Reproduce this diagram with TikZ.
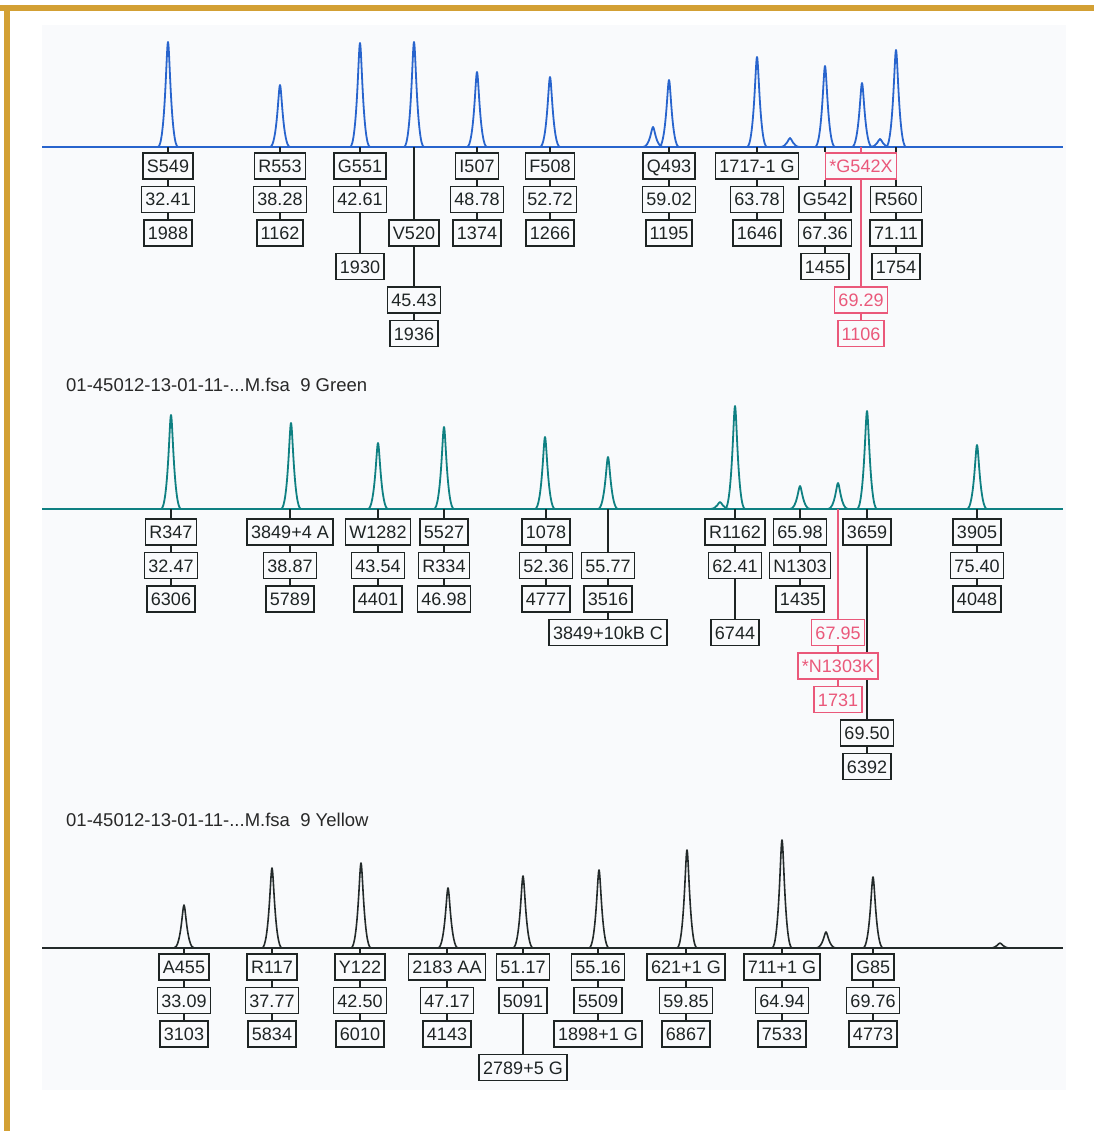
\documentclass[tikz,border=0pt]{standalone}
\usepackage{fontspec}
\setmainfont{Liberation Sans}
\definecolor{gold}{RGB}{211,160,52}
\definecolor{panel}{RGB}{249,250,252}
\definecolor{tblue}{RGB}{40,100,205}
\definecolor{tteal}{RGB}{15,128,130}
\definecolor{tblack}{RGB}{35,42,42}
\definecolor{boxc}{RGB}{30,36,36}
\definecolor{redc}{RGB}{234,88,122}
\definecolor{headc}{RGB}{40,40,40}

\begin{document}
\begin{tikzpicture}[x=1pt,y=-1pt,node distance=33.5pt,every node/.style={inner sep=0pt}]
\tikzstyle{lab}=[draw=boxc,line width=1.8pt,fill=panel,text=boxc,font=\fontsize{18}{20}\selectfont,inner xsep=4pt,text height=13pt,text depth=0pt,minimum height=26pt]
\tikzstyle{redlab}=[lab,draw=redc,text=redc]
\tikzstyle{link}=[draw=boxc,line width=1.4pt]
\tikzstyle{redlink}=[draw=redc,line width=1.4pt]
\tikzstyle{head}=[anchor=west,text=headc,font=\fontsize{18.5}{20}\selectfont]
\tikzstyle{blueline}=[draw=tblue,line width=1.8pt,line join=round]
\tikzstyle{tealline}=[draw=tteal,line width=1.8pt,line join=round]
\tikzstyle{blackline}=[draw=tblack,line width=1.6pt,line join=round]

\useasboundingbox (0,0) rectangle (1094,1131);
\fill[white] (0,0) rectangle (1094,1131);
\fill[panel] (42,25) rectangle (1066,1090);
\fill[gold] (0,5) rectangle (1094,11);
\fill[gold] (4,5) rectangle (10,1131);

% traces
\draw[blueline] (42,147) -- (1063,147);
\foreach \x/\t in {168/42,280/85,360/43,414/42,477/72,550/77,653/127,669/80,757/57,790/138,825/66,862/83,880/139,896/50}
  \draw[blueline] ({\x-10},147) .. controls ({\x-3},147) and ({\x-1.5},\t) .. (\x,\t) .. controls ({\x+1.5},\t) and ({\x+3},147) .. ({\x+10},147);
\draw[tealline] (42,509) -- (1063,509);
\foreach \x/\t in {171/415,291/423,378/443,444/427,545/437,608/457,720/502,735/406,800/486,838/483,867/411,977/445}
  \draw[tealline] ({\x-10},509) .. controls ({\x-3},509) and ({\x-1.5},\t) .. (\x,\t) .. controls ({\x+1.5},\t) and ({\x+3},509) .. ({\x+10},509);
\draw[blackline] (42,948) -- (1063,948);
\foreach \x/\t in {184/905,272/868,361/863,448/888,523/876,599/870,687/850,782/840,826/932,873/877,1000/943}
  \draw[blackline] ({\x-10},948) .. controls ({\x-3},948) and ({\x-1.5},\t) .. (\x,\t) .. controls ({\x+1.5},\t) and ({\x+3},948) .. ({\x+10},948);

% top panel
\coordinate (tap) at (168,147);
\node[lab] (ta0) at (168,166) {S549};
\node[lab,below of=ta0] (ta1) {32.41};
\node[lab,below of=ta1] (ta2) {1988};
\path[link] (tap)--(ta0)--(ta1)--(ta2);

\coordinate (tbp) at (280,147);
\node[lab] (tb0) at (280,166) {R553};
\node[lab,below of=tb0] (tb1) {38.28};
\node[lab,below of=tb1] (tb2) {1162};
\path[link] (tbp)--(tb0)--(tb1)--(tb2);

\coordinate (tcp) at (360,147);
\node[lab] (tc0) at (360,166) {G551};
\node[lab,below of=tc0] (tc1) {42.61};
\node[lab,below of=tc1,node distance=67pt] (tc2) {1930};
\path[link] (tcp)--(tc0)--(tc1)--(tc2);

\coordinate (tdp) at (414,147);
\node[lab] (td0) at (414,233) {V520};
\node[lab,below of=td0,node distance=67pt] (td1) {45.43};
\node[lab,below of=td1] (td2) {1936};
\path[link] (tdp)--(td0)--(td1)--(td2);

\coordinate (tep) at (477,147);
\node[lab] (te0) at (477,166) {I507};
\node[lab,below of=te0] (te1) {48.78};
\node[lab,below of=te1] (te2) {1374};
\path[link] (tep)--(te0)--(te1)--(te2);

\coordinate (tfp) at (550,147);
\node[lab] (tf0) at (550,166) {F508};
\node[lab,below of=tf0] (tf1) {52.72};
\node[lab,below of=tf1] (tf2) {1266};
\path[link] (tfp)--(tf0)--(tf1)--(tf2);

\coordinate (tgp) at (669,147);
\node[lab] (tg0) at (669,166) {Q493};
\node[lab,below of=tg0] (tg1) {59.02};
\node[lab,below of=tg1] (tg2) {1195};
\path[link] (tgp)--(tg0)--(tg1)--(tg2);

\coordinate (thp) at (757,147);
\node[lab] (th0) at (757,166) {1717-1 G};
\node[lab,below of=th0] (th1) {63.78};
\node[lab,below of=th1] (th2) {1646};
\path[link] (thp)--(th0)--(th1)--(th2);

\coordinate (tip) at (861,147);
\node[redlab] (ti0) at (861,166) {*G542X};
\node[redlab] (ti1) at (861,300) {69.29};
\node[redlab,below of=ti1] (ti2) {1106};
\path[redlink] (tip)--(ti0)--(ti1)--(ti2);

\coordinate (tjp) at (825,147);
\node[lab] (tj0) at (825,199.5) {G542};
\node[lab,below of=tj0] (tj1) {67.36};
\node[lab,below of=tj1] (tj2) {1455};
\path[link] (tjp)--(tjp |- ti0.north);
\path[link] (tjp |- ti0.south)--(tj0)--(tj1)--(tj2);

\coordinate (tkp) at (896,147);
\node[lab] (tk0) at (896,199.5) {R560};
\node[lab,below of=tk0] (tk1) {71.11};
\node[lab,below of=tk1] (tk2) {1754};
\path[link] (tkp)--(tkp |- ti0.north);
\path[link] (tkp |- ti0.south)--(tk0)--(tk1)--(tk2);

% middle panel
\node[head] (hg) at (66,385) {01-45012-13-01-11-...M.fsa\ \ 9 Green};

\coordinate (map) at (171,509);
\node[lab] (ma0) at (171,532) {R347};
\node[lab,below of=ma0] (ma1) {32.47};
\node[lab,below of=ma1] (ma2) {6306};
\path[link] (map)--(ma0)--(ma1)--(ma2);

\coordinate (mbp) at (290,509);
\node[lab] (mb0) at (290,532) {3849+4 A};
\node[lab,below of=mb0] (mb1) {38.87};
\node[lab,below of=mb1] (mb2) {5789};
\path[link] (mbp)--(mb0)--(mb1)--(mb2);

\coordinate (mcp) at (378,509);
\node[lab] (mc0) at (378,532) {W1282};
\node[lab,below of=mc0] (mc1) {43.54};
\node[lab,below of=mc1] (mc2) {4401};
\path[link] (mcp)--(mc0)--(mc1)--(mc2);

\coordinate (mdp) at (444,509);
\node[lab] (md0) at (444,532) {5527};
\node[lab,below of=md0] (md1) {R334};
\node[lab,below of=md1] (md2) {46.98};
\path[link] (mdp)--(md0)--(md1)--(md2);

\coordinate (mep) at (546,509);
\node[lab] (me0) at (546,532) {1078};
\node[lab,below of=me0] (me1) {52.36};
\node[lab,below of=me1] (me2) {4777};
\path[link] (mep)--(me0)--(me1)--(me2);

\coordinate (mfp) at (608,509);
\node[lab] (mf0) at (608,565.5) {55.77};
\node[lab,below of=mf0] (mf1) {3516};
\node[lab,below of=mf1] (mf2) {3849+10kB C};
\path[link] (mfp)--(mf0)--(mf1)--(mf2);

\coordinate (mgp) at (735,509);
\node[lab] (mg0) at (735,532) {R1162};
\node[lab,below of=mg0] (mg1) {62.41};
\node[lab,below of=mg1,node distance=67pt] (mg2) {6744};
\path[link] (mgp)--(mg0)--(mg1)--(mg2);

\coordinate (mhp) at (800,509);
\node[lab] (mh0) at (800,532) {65.98};
\node[lab,below of=mh0] (mh1) {N1303};
\node[lab,below of=mh1] (mh2) {1435};
\path[link] (mhp)--(mh0)--(mh1)--(mh2);

\coordinate (mjp) at (867,509);
\node[lab] (mj0) at (867,532) {3659};
\node[lab] (mj1) at (867,733) {69.50};
\node[lab,below of=mj1] (mj2) {6392};
\path[link] (mjp)--(mj0)--(mj1)--(mj2);

\coordinate (mip) at (838,509);
\node[redlab] (mi0) at (838,632.5) {67.95};
\node[redlab,below of=mi0] (mi1) {*N1303K};
\node[redlab,below of=mi1] (mi2) {1731};
\path[redlink] (mip)--(mi0)--(mi1)--(mi2);

\coordinate (mkp) at (977,509);
\node[lab] (mk0) at (977,532) {3905};
\node[lab,below of=mk0] (mk1) {75.40};
\node[lab,below of=mk1] (mk2) {4048};
\path[link] (mkp)--(mk0)--(mk1)--(mk2);

% bottom panel
\node[head] (hy) at (66,820) {01-45012-13-01-11-...M.fsa\ \ 9 Yellow};

\coordinate (bap) at (184,948);
\node[lab] (ba0) at (184,967) {A455};
\node[lab,below of=ba0] (ba1) {33.09};
\node[lab,below of=ba1] (ba2) {3103};
\path[link] (bap)--(ba0)--(ba1)--(ba2);

\coordinate (bbp) at (272,948);
\node[lab] (bb0) at (272,967) {R117};
\node[lab,below of=bb0] (bb1) {37.77};
\node[lab,below of=bb1] (bb2) {5834};
\path[link] (bbp)--(bb0)--(bb1)--(bb2);

\coordinate (bcp) at (360,948);
\node[lab] (bc0) at (360,967) {Y122};
\node[lab,below of=bc0] (bc1) {42.50};
\node[lab,below of=bc1] (bc2) {6010};
\path[link] (bcp)--(bc0)--(bc1)--(bc2);

\coordinate (bdp) at (447,948);
\node[lab] (bd0) at (447,967) {2183 AA};
\node[lab,below of=bd0] (bd1) {47.17};
\node[lab,below of=bd1] (bd2) {4143};
\path[link] (bdp)--(bd0)--(bd1)--(bd2);

\coordinate (bep) at (523,948);
\node[lab] (be0) at (523,967) {51.17};
\node[lab,below of=be0] (be1) {5091};
\node[lab,below of=be1,node distance=67pt] (be2) {2789+5 G};
\path[link] (bep)--(be0)--(be1)--(be2);

\coordinate (bfp) at (598,948);
\node[lab] (bf0) at (598,967) {55.16};
\node[lab,below of=bf0] (bf1) {5509};
\node[lab,below of=bf1] (bf2) {1898+1 G};
\path[link] (bfp)--(bf0)--(bf1)--(bf2);

\coordinate (bgp) at (686,948);
\node[lab] (bg0) at (686,967) {621+1 G};
\node[lab,below of=bg0] (bg1) {59.85};
\node[lab,below of=bg1] (bg2) {6867};
\path[link] (bgp)--(bg0)--(bg1)--(bg2);

\coordinate (bhp) at (782,948);
\node[lab] (bh0) at (782,967) {711+1 G};
\node[lab,below of=bh0] (bh1) {64.94};
\node[lab,below of=bh1] (bh2) {7533};
\path[link] (bhp)--(bh0)--(bh1)--(bh2);

\coordinate (bip) at (873,948);
\node[lab] (bi0) at (873,967) {G85};
\node[lab,below of=bi0] (bi1) {69.76};
\node[lab,below of=bi1] (bi2) {4773};
\path[link] (bip)--(bi0)--(bi1)--(bi2);
\end{tikzpicture}
\end{document}
